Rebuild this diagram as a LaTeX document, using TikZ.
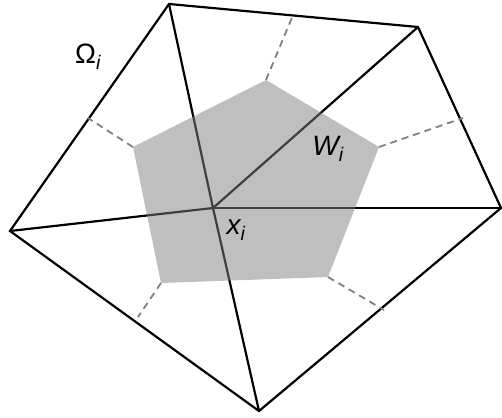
\documentclass[tikz,border=0pt]{standalone}
\usepackage{fontspec}
\setmainfont{Liberation Sans}
\begin{document}
\begin{tikzpicture}[x=1pt,y=-1pt,
  edge/.style={draw=black,line width=2.2pt,line join=miter},
  spoke/.style={draw=black,line width=2.2pt},
  dual/.style={draw=black!50,line width=1.8pt,dash pattern=on 7pt off 5pt},
  cell/.style={fill=black!50,fill opacity=0.5,draw=none},
  lbl/.style={font=\fontsize{28}{30}\selectfont,inner sep=0pt}]
\useasboundingbox[fill=white] (0,0) rectangle (502,417);
% outer vertices
\coordinate (A) at (169,4);
\coordinate (B) at (418,27);
\coordinate (C) at (501,208);
\coordinate (D) at (259,411);
\coordinate (E) at (10,231);
\coordinate (X) at (213,208);
% cell vertices
\coordinate (P1) at (133,147);
\coordinate (P2) at (266,80);
\coordinate (P3) at (379,147);
\coordinate (P4) at (328,277);
\coordinate (P5) at (161,283);
% edge points
\coordinate (M1) at (88,118);
\coordinate (M2) at (293,15);
\coordinate (M3) at (463,118);
\coordinate (M4) at (384,310);
\coordinate (M5) at (138,317);
% outer polygon
\draw[edge] (A) -- (B) -- (C) -- (D) -- (E) -- cycle;
% spokes
\foreach \v in {A,B,C,D,E} \draw[spoke] (X) -- (\v);
% dashed dual edges
\draw[dual] (P1) -- (M1);
\draw[dual] (P2) -- (M2);
\draw[dual] (P3) -- (M3);
\draw[dual] (P4) -- (M4);
\draw[dual] (P5) -- (M5);
% cell
\path[cell] (P1) -- (P2) -- (P3) -- (P4) -- (P5) -- cycle;
% labels
\node[lbl] (om) at (88,57) {Ω\textsubscript{\itshape i}};
\node[lbl] (w) at (328,149) {\itshape W\textsubscript{i}};
\node[lbl] (x) at (236,230) {\itshape x\textsubscript{i}};
\end{tikzpicture}
\end{document}
